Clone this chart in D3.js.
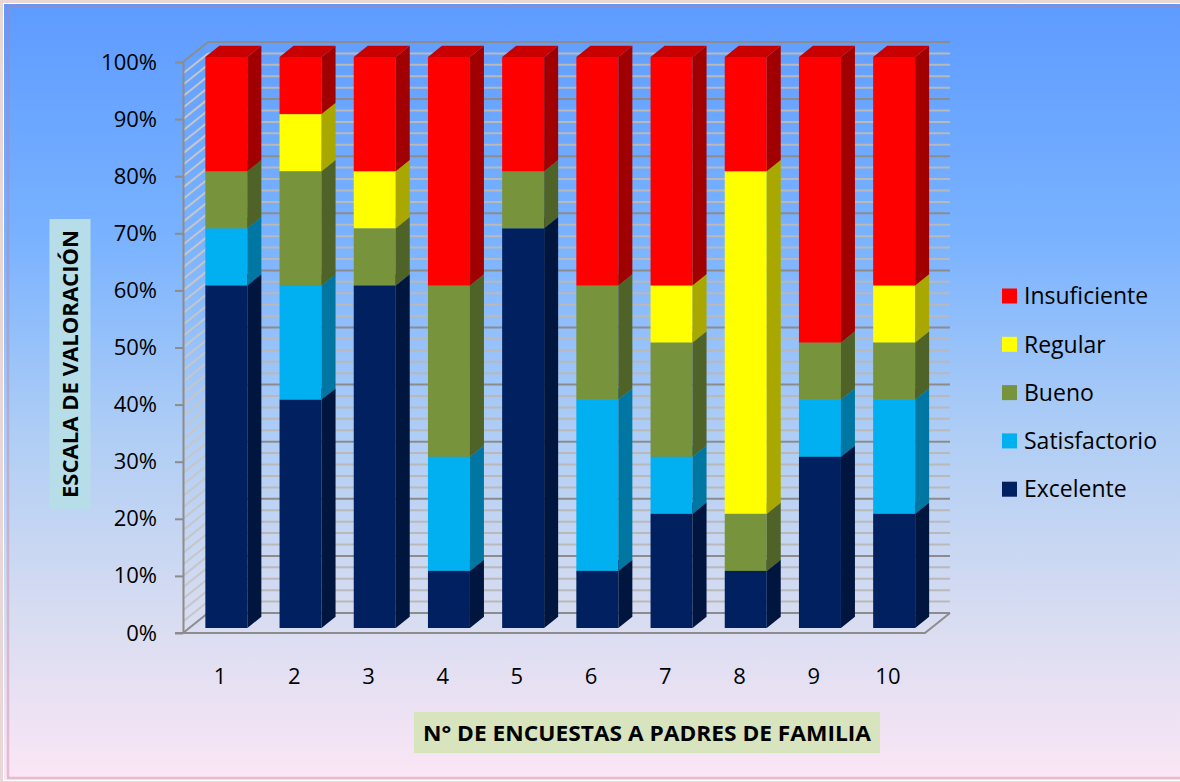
<!DOCTYPE html>
<html>
<head>
<meta charset="utf-8">
<script src="https://cdn.jsdelivr.net/npm/d3@7"></script>
<style>
  html, body { margin: 0; padding: 0; background: #fff; }
  svg { display: block; }
  text { font-family: "Open Sans", "Noto Sans", sans-serif; fill: #000; }
</style>
</head>
<body>
<svg id="chart" width="1180" height="782"></svg>
<script>
// Survey numbers (1–10) and the share of each rating, in percent
const categories = ["1", "2", "3", "4", "5", "6", "7", "8", "9", "10"];
const excelente     = [60, 40, 60, 10, 70, 10, 20, 10, 30, 20];
const satisfactorio = [10, 20,  0, 20,  0, 30, 10,  0, 10, 20];
const bueno         = [10, 20, 10, 30, 10, 20, 20, 10, 10, 10];
const regular       = [ 0, 10, 10,  0,  0,  0, 10, 60,  0, 10];
const insuficiente  = [20, 10, 20, 40, 20, 40, 40, 20, 50, 40];

const seriesNames = ["Excelente", "Satisfactorio", "Bueno", "Regular", "Insuficiente"];
const yTicks = [0, 10, 20, 30, 40, 50, 60, 70, 80, 90, 100];

const yTitle = "ESCALA DE VALORACIÓN";
const xTitle = "N° DE ENCUESTAS A PADRES DE FAMILIA";

// Face shading for each series: front, side, top
const faceColors = {
  Excelente:     { front: "#002060", side: "#00163f", top: "#001a4d" },
  Satisfactorio: { front: "#00b0f0", side: "#0077a3", top: "#008cbf" },
  Bueno:         { front: "#77933c", side: "#4f6228", top: "#62792f" },
  Regular:       { front: "#ffff00", side: "#a8a800", top: "#cccc00" },
  Insuficiente:  { front: "#ff0000", side: "#a00000", top: "#c80000" }
};

(function draw() {
  const rows = categories.map((c, i) => ({
    cat: c,
    Excelente: excelente[i],
    Satisfactorio: satisfactorio[i],
    Bueno: bueno[i],
    Regular: regular[i],
    Insuficiente: insuficiente[i]
  }));
  const stacked = d3.stack().keys(seriesNames)(rows);

  const svg = d3.select("#chart");
  const W = 1180, H = 782;

  // ---- chart frame and background gradient ----
  const defs = svg.append("defs");
  const grad = defs.append("linearGradient").attr("id", "bg")
    .attr("x1", 0).attr("y1", 0).attr("x2", 0).attr("y2", 1);
  [[0, "#5e9bff"], [0.3, "#79b2ff"], [0.55, "#aecdf5"], [0.78, "#d6dcf1"], [1, "#fbe6f5"]]
    .forEach(([o, c]) => grad.append("stop").attr("offset", o).attr("stop-color", c));

  svg.append("rect").attr("width", W).attr("height", H).attr("fill", "#e9d6d6");
  svg.append("rect").attr("x", 3).attr("y", 3).attr("width", W).attr("height", H - 4).attr("fill", "#ffffff");
  svg.append("rect").attr("x", 4).attr("y", 4).attr("width", W).attr("height", H - 6).attr("fill", "url(#bg)");
  svg.append("rect").attr("x", 8).attr("y", 6).attr("width", W + 10).attr("height", 772)
    .attr("fill", "none").attr("stroke", "rgba(200,120,150,0.38)").attr("stroke-width", 2.5);

  // ---- 3D projection ----
  const plotL = 183, plotR = 925, plotB = 633, plotT = 62;
  const depthX = 25, depthY = -20;         // offset of the back wall
  const d0 = 0.25, d1 = 0.81;              // bar depth range

  const x = d3.scaleBand().domain(categories).range([plotL, plotR])
    .paddingInner(0.434).paddingOuter(0.217);
  const y = d3.scaleLinear().domain([0, 100]).range([plotB, plotT]);

  const P = (px, v, d) => [px + d * depthX, y(v) + d * depthY];
  const poly = pts => pts.map(p => p.join(",")).join(" ");

  // ---- walls and gridlines ----
  const walls = svg.append("g");
  const gridVals = d3.range(0, 101, 2);
  // back wall
  walls.selectAll("line.back").data(gridVals).join("line").attr("class", "back")
    .attr("x1", v => P(plotL, v, 1)[0]).attr("y1", v => P(plotL, v, 1)[1])
    .attr("x2", v => P(plotR, v, 1)[0]).attr("y2", v => P(plotR, v, 1)[1])
    .attr("stroke", v => v % 10 === 0 ? "#8c8c8c" : "#b9b9b9")
    .attr("stroke-width", 2);
  // side wall
  walls.selectAll("line.side").data(gridVals).join("line").attr("class", "side")
    .attr("x1", v => P(plotL, v, 0)[0]).attr("y1", v => P(plotL, v, 0)[1])
    .attr("x2", v => P(plotL, v, 1)[0]).attr("y2", v => P(plotL, v, 1)[1])
    .attr("stroke", v => (v === 0 || v === 100) ? "#8c8c8c" : "#c6c6c6")
    .attr("stroke-width", 2);
  // floor edges
  walls.append("polyline")
    .attr("points", poly([[plotL - 8, plotB], P(plotR, 0, 0), P(plotR, 0, 1)]))
    .attr("fill", "none").attr("stroke", "#8c8c8c").attr("stroke-width", 2);

  // ---- y axis (front plane) ----
  const yAxis = d3.axisLeft(y).tickValues(yTicks).tickFormat(d => d + "%")
    .tickSize(8).tickSizeOuter(0).tickPadding(18);
  const gy = svg.append("g").attr("transform", `translate(${plotL},0)`).call(yAxis);
  gy.selectAll("path, line").attr("stroke", "#8c8c8c").attr("stroke-width", 2);
  gy.selectAll("text").style("font-size", "22px").style("font-family", "'Open Sans', sans-serif")
    .attr("fill", "#000");

  // ---- x axis labels ----
  const xAxis = d3.axisBottom(x).tickSize(0).tickPadding(35);
  const gx = svg.append("g").attr("transform", `translate(0,${plotB})`).call(xAxis);
  gx.select(".domain").remove();
  gx.selectAll("text").style("font-size", "22px").style("font-family", "'Open Sans', sans-serif")
    .attr("fill", "#000");

  // ---- bars ----
  const bars = svg.append("g");
  categories.forEach((cat, j) => {
    const x0 = x(cat), x1 = x0 + x.bandwidth();
    stacked.forEach(layer => {
      const [v0, v1] = layer[j];
      if (v1 - v0 <= 0) return;
      const c = faceColors[layer.key];
      const g = bars.append("g");
      // front face
      const f0 = P(x0, v1, d0), f1 = P(x1, v0, d0);
      g.append("rect").attr("x", f0[0]).attr("y", f0[1])
        .attr("width", f1[0] - f0[0]).attr("height", f1[1] - f0[1])
        .attr("fill", c.front);
      // right side face
      g.append("polygon")
        .attr("points", poly([P(x1, v0, d0), P(x1, v1, d0), P(x1, v1, d1), P(x1, v0, d1)]))
        .attr("fill", c.side);
      // top face
      g.append("polygon")
        .attr("points", poly([P(x0, v1, d0), P(x1, v1, d0), P(x1, v1, d1), P(x0, v1, d1)]))
        .attr("fill", c.top);
    });
  });

  // ---- axis titles ----
  const yt = svg.append("g").attr("transform", "translate(70,364) rotate(-90)");
  yt.append("rect").attr("x", -145).attr("y", -20.5).attr("width", 290).attr("height", 41)
    .attr("fill", "#b7dee8");
  yt.append("text").attr("text-anchor", "middle").attr("dy", "0.36em")
    .attr("textLength", 268).attr("lengthAdjust", "spacingAndGlyphs")
    .style("font-size", "21px").style("font-weight", "bold").text(yTitle);

  const xt = svg.append("g").attr("transform", "translate(647,733)");
  xt.append("rect").attr("x", -233).attr("y", -21).attr("width", 466).attr("height", 41)
    .attr("fill", "#d7e4bd");
  xt.append("text").attr("text-anchor", "middle").attr("dy", "0.36em")
    .attr("textLength", 448).attr("lengthAdjust", "spacingAndGlyphs")
    .style("font-size", "22px").style("font-weight", "bold").text(xTitle);

  // ---- legend ----
  const legendItems = seriesNames.slice().reverse();
  const legend = svg.append("g").attr("transform", "translate(1002,296)");
  const li = legend.selectAll("g").data(legendItems).join("g")
    .attr("transform", (d, i) => `translate(0,${i * 48.3})`);
  li.append("rect").attr("x", 0).attr("y", -7.5).attr("width", 15).attr("height", 15)
    .attr("fill", d => faceColors[d].front);
  li.append("text").attr("x", 22).attr("dy", "0.36em")
    .style("font-size", "23px").text(d => d);
})();
</script>
</body>
</html>
